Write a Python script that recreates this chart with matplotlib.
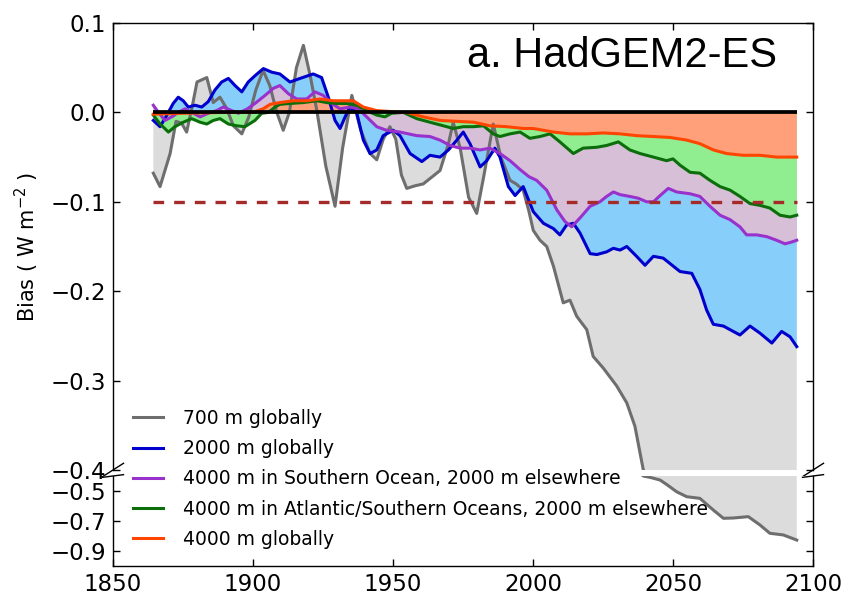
import matplotlib
matplotlib.use('Agg')
import matplotlib.pyplot as plt

# ---------------- data ----------------
gray_years = [1864.4, 1866.8, 1870.4, 1872.5, 1874.5, 1876.3, 1878.5, 1880.0, 1883.5, 1885.8,
              1888.2, 1890.5, 1893.0, 1896.0, 1898.5, 1901.0, 1903.6, 1906.0, 1908.5, 1910.8,
              1913.0, 1915.5, 1918.0, 1920.5, 1922.8, 1926.0, 1929.3, 1932.0, 1935.3, 1938.5,
              1941.8, 1944.2, 1946.5, 1948.9, 1951.0, 1953.0, 1954.9, 1958.0, 1960.8, 1964.0,
              1966.8, 1969.8, 1971.5, 1974.0, 1977.0, 1979.9, 1982.5, 1985.8, 1988.5, 1991.8,
              1994.0, 1996.5, 1998.5, 2000.1, 2002.5, 2004.9, 2007.3, 2010.8, 2013.2, 2015.6,
              2019.2, 2021.5, 2025.1, 2029.9, 2033.5, 2036.4, 2039.4, 2042.0, 2045.4, 2048.0,
              2051.3, 2054.9, 2059.6, 2064.4, 2068.0, 2071.5, 2076.9, 2081.1, 2084.6, 2089.4,
              2094.2]
gray_vals = [-0.068, -0.083, -0.046, -0.010, -0.012, -0.022, 0.010, 0.034, 0.039, 0.011,
             0.017, 0.005, -0.015, -0.024, -0.005, 0.025, 0.047, 0.030, 0.000, -0.020,
             0.000, 0.050, 0.075, 0.040, 0.002, -0.060, -0.105, -0.040, 0.019, -0.020,
             -0.046, -0.053, -0.030, -0.016, -0.030, -0.070, -0.085, -0.082, -0.080, -0.072,
             -0.065, -0.035, -0.011, -0.040, -0.095, -0.113, -0.070, -0.013, -0.050, -0.076,
             -0.080, -0.087, -0.110, -0.132, -0.143, -0.150, -0.172, -0.213, -0.210, -0.228,
             -0.243, -0.273, -0.286, -0.306, -0.325, -0.351, -0.400, -0.410, -0.427, -0.460,
             -0.505, -0.538, -0.549, -0.627, -0.682, -0.680, -0.671, -0.727, -0.782, -0.793,
             -0.827]

blue_years = [1864.4, 1866.8, 1868.9, 1871.5, 1873.3, 1875.1, 1876.9, 1879.3, 1881.7, 1884.0,
              1886.4, 1888.8, 1891.2, 1893.6, 1896.0, 1898.3, 1900.7, 1903.7, 1906.7, 1909.6,
              1913.2, 1916.8, 1921.5, 1924.5, 1926.9, 1929.3, 1931.1, 1932.9, 1934.6, 1937.0,
              1939.4, 1941.8, 1944.2, 1946.5, 1950.1, 1952.5, 1956.1, 1960.3, 1963.2, 1966.8,
              1969.8, 1972.8, 1975.1, 1977.5, 1981.1, 1983.5, 1986.4, 1988.2, 1991.2, 1993.6,
              1996.5, 2000.1, 2003.7, 2007.3, 2009.6, 2012.0, 2014.4, 2016.8, 2020.4, 2022.8,
              2026.3, 2028.7, 2031.1, 2033.5, 2037.0, 2040.0, 2043.0, 2046.5, 2048.9, 2052.5,
              2056.7, 2059.6, 2062.0, 2064.4, 2068.0, 2073.9, 2077.5, 2081.1, 2085.3, 2088.8,
              2091.8, 2094.2]
blue_vals = [-0.009, -0.016, -0.005, 0.010, 0.017, 0.013, 0.006, 0.008, 0.006, 0.012,
             0.025, 0.034, 0.038, 0.030, 0.023, 0.034, 0.041, 0.049, 0.045, 0.043,
             0.034, 0.038, 0.043, 0.039, 0.017, -0.009, -0.018, -0.005, 0.006, 0.000,
             -0.031, -0.046, -0.042, -0.026, -0.020, -0.026, -0.046, -0.055, -0.048, -0.050,
             -0.042, -0.031, -0.022, -0.035, -0.061, -0.054, -0.040, -0.050, -0.083, -0.093,
             -0.083, -0.111, -0.124, -0.130, -0.137, -0.126, -0.124, -0.135, -0.158, -0.159,
             -0.156, -0.152, -0.154, -0.150, -0.161, -0.171, -0.161, -0.163, -0.169, -0.178,
             -0.180, -0.198, -0.221, -0.237, -0.239, -0.249, -0.239, -0.247, -0.258, -0.245,
             -0.251, -0.262]

purple_years = [1864.4, 1866.2, 1868.6, 1871.5, 1873.3, 1875.7, 1878.1, 1881.1, 1884.0, 1887.0,
                1889.4, 1892.4, 1894.8, 1898.0, 1900.7, 1904.3, 1907.3, 1909.6, 1912.6, 1915.6,
                1919.2, 1922.1, 1925.1, 1928.1, 1931.1, 1934.6, 1937.6, 1940.6, 1944.2, 1947.7,
                1952.5, 1958.5, 1963.2, 1966.8, 1970.4, 1973.9, 1977.5, 1981.1, 1984.6, 1988.2,
                1991.8, 1995.4, 1998.6, 2001.3, 2004.9, 2008.5, 2011.4, 2013.8, 2016.8, 2020.4,
                2023.9, 2026.3, 2028.7, 2031.1, 2034.6, 2037.6, 2040.6, 2043.0, 2045.4, 2048.3,
                2051.3, 2056.1, 2059.6, 2063.2, 2066.8, 2070.4, 2073.9, 2076.3, 2079.9, 2083.5,
                2087.0, 2090.0, 2092.4, 2094.2]
purple_vals = [0.008, 0.000, -0.009, -0.004, 0.000, 0.004, 0.000, -0.005, -0.001, 0.002,
               0.006, 0.002, -0.001, 0.004, 0.010, 0.019, 0.027, 0.030, 0.021, 0.015,
               0.015, 0.023, 0.019, 0.010, 0.004, 0.006, 0.004, -0.005, -0.016, -0.020,
               -0.022, -0.026, -0.027, -0.031, -0.037, -0.040, -0.040, -0.042, -0.040, -0.046,
               -0.054, -0.064, -0.072, -0.076, -0.087, -0.109, -0.122, -0.128, -0.118, -0.105,
               -0.100, -0.094, -0.089, -0.092, -0.094, -0.096, -0.100, -0.100, -0.093, -0.085,
               -0.089, -0.091, -0.094, -0.105, -0.115, -0.120, -0.128, -0.137, -0.137, -0.139,
               -0.143, -0.147, -0.145, -0.143]

green_years = [1864.4, 1866.8, 1869.8, 1872.1, 1875.1, 1878.1, 1881.1, 1883.5, 1885.8, 1888.2,
               1891.2, 1894.2, 1897.1, 1900.7, 1903.1, 1905.5, 1907.9, 1909.6, 1913.2, 1918.0,
               1922.8, 1926.3, 1929.9, 1933.5, 1937.0, 1940.6, 1944.2, 1947.1, 1949.5, 1953.7,
               1958.5, 1963.2, 1968.0, 1971.5, 1975.1, 1978.7, 1982.3, 1985.8, 1988.2, 1991.8,
               1995.4, 1998.9, 2002.5, 2006.1, 2009.6, 2014.4, 2017.9, 2022.8, 2026.3, 2030.5,
               2034.6, 2038.2, 2043.0, 2047.7, 2050.0, 2052.5, 2056.1, 2059.6, 2063.2, 2066.8,
               2070.4, 2073.9, 2077.5, 2081.1, 2084.6, 2088.2, 2091.8, 2094.2]
green_vals = [-0.003, -0.013, -0.022, -0.016, -0.011, -0.007, -0.011, -0.013, -0.009, -0.007,
              -0.013, -0.015, -0.016, -0.009, -0.001, 0.000, 0.006, 0.009, 0.010, 0.011,
              0.013, 0.011, 0.010, 0.010, 0.008, 0.002, -0.003, -0.005, -0.001, 0.000,
              -0.007, -0.011, -0.015, -0.018, -0.016, -0.016, -0.015, -0.024, -0.027, -0.024,
              -0.022, -0.029, -0.027, -0.024, -0.033, -0.046, -0.040, -0.039, -0.037, -0.033,
              -0.042, -0.046, -0.050, -0.054, -0.052, -0.059, -0.067, -0.068, -0.076, -0.083,
              -0.087, -0.094, -0.102, -0.104, -0.107, -0.115, -0.117, -0.115]

orange_years = [1864.4, 1875.0, 1890.0, 1900.0, 1903.6, 1906.1, 1909.6, 1914.4, 1919.2, 1923.9,
                1928.7, 1932.2, 1935.8, 1939.4, 1944.2, 1948.9, 1952.5, 1954.9, 1960.8, 1966.8,
                1972.8, 1978.7, 1984.6, 1990.6, 1996.5, 2000.1, 2007.3, 2013.2, 2019.2, 2025.1,
                2031.1, 2037.0, 2043.0, 2048.9, 2054.9, 2059.6, 2064.4, 2069.1, 2075.1, 2081.1,
                2087.0, 2094.2]
orange_vals = [-0.002, -0.001, 0.000, 0.000, 0.004, 0.009, 0.011, 0.013, 0.013, 0.015,
               0.013, 0.013, 0.013, 0.006, 0.002, 0.001, 0.000, 0.000, -0.005, -0.009,
               -0.010, -0.011, -0.015, -0.016, -0.018, -0.018, -0.022, -0.024, -0.024, -0.023,
               -0.024, -0.026, -0.027, -0.028, -0.031, -0.035, -0.042, -0.046, -0.048, -0.048,
               -0.050, -0.050]

labels = ['700 m globally',
          '2000 m globally',
          '4000 m in Southern Ocean, 2000 m elsewhere',
          '4000 m in Atlantic/Southern Oceans, 2000 m elsewhere',
          '4000 m globally']
line_colors = ['#6e6e6e', '#0000cd', '#9932cc', '#0b6e0b', '#ff4500']
fill_colors = ['#dcdcdc', '#87cefa', '#d8bfd8', '#90ee90', '#ffa07a']

zero_level = 0.0
threshold = -0.1
title = 'a. HadGEM2-ES'
ylabel = r'Bias ( W m$^{-2}$ )'
xticks = [1850, 1900, 1950, 2000, 2050, 2100]
top_yticks = [-0.4, -0.3, -0.2, -0.1, 0.0, 0.1]
bottom_yticks = [-0.9, -0.7, -0.5]
top_ylim = (-0.4, 0.1)
bottom_ylim = (-1.0, -0.4)
xlim = (1850, 2100)

# ---------------- figure ----------------
plt.rcParams['font.family'] = ['DejaVu Sans']
W, H = 846, 598
fig = plt.figure(figsize=(W / 100, H / 100), dpi=100)
ax = fig.add_axes([113 / W, 1 - 470 / H, 700 / W, 447 / H])
ax2 = fig.add_axes([113 / W, 1 - 566 / H, 700 / W, 90 / H])

series = [(gray_years, gray_vals), (blue_years, blue_vals), (purple_years, purple_vals),
          (green_years, green_vals), (orange_years, orange_vals)]

handles = []
for a in (ax, ax2):
    for (yrs, vals), fc in zip(series, fill_colors):
        a.fill_between(yrs, vals, zero_level, facecolor=fc, edgecolor='none', zorder=1)
    for (yrs, vals), lc, lab in zip(series, line_colors, labels):
        ln, = a.plot(yrs, vals, color=lc, lw=2.2, label=lab, zorder=3)
        if a is ax:
            handles.append(ln)
    a.hlines(zero_level, gray_years[0], gray_years[-1], color='black', lw=2.7, zorder=5)
    a.hlines(threshold, gray_years[0], gray_years[-1], color='#a52a2a', lw=2.4,
             linestyles=(0, (3.2, 3.0)), zorder=4)
    a.set_xlim(*xlim)
    a.set_xticks(xticks)
    for s in a.spines.values():
        s.set_linewidth(1.0)
        s.set_color('black')
    a.tick_params(direction='in', length=5, width=1, labelsize=16.5, pad=5,
                  left=True, right=True)

ax.set_ylim(*top_ylim)
ax.set_yticks(top_yticks)
ax.spines['bottom'].set_visible(False)
ax.tick_params(axis='x', bottom=False, top=True, labelbottom=False)
ax.set_ylabel(ylabel, fontsize=15, labelpad=7)

ax2.set_ylim(*bottom_ylim)
ax2.set_yticks(bottom_yticks)
ax2.spines['top'].set_visible(False)
ax2.tick_params(axis='x', bottom=True, top=False)

# break marks
d = 0.015
kw = dict(color='k', clip_on=False, lw=1)
ax.plot((-d, d), (-d, d), transform=ax.transAxes, **kw)
ax.plot((1 - d, 1 + d), (-d, d), transform=ax.transAxes, **kw)
ax2.plot((-d, d), (1 - d, 1 + d), transform=ax2.transAxes, **kw)
ax2.plot((1 - d, 1 + d), (1 - d, 1 + d), transform=ax2.transAxes, **kw)

ax.text(0.9486, 0.9016, title, transform=ax.transAxes, ha='right', va='baseline',
        fontsize=30, family=['Liberation Sans', 'DejaVu Sans'], zorder=6)

fig.legend(handles=handles, loc='upper left', bbox_to_anchor=(133 / W, 1 - 409 / H),
           frameon=False, fontsize=13.5, handlelength=1.6, handletextpad=1.07,
           labelspacing=0.6, borderpad=0, borderaxespad=0)

fig.savefig('out.png', dpi=100)
